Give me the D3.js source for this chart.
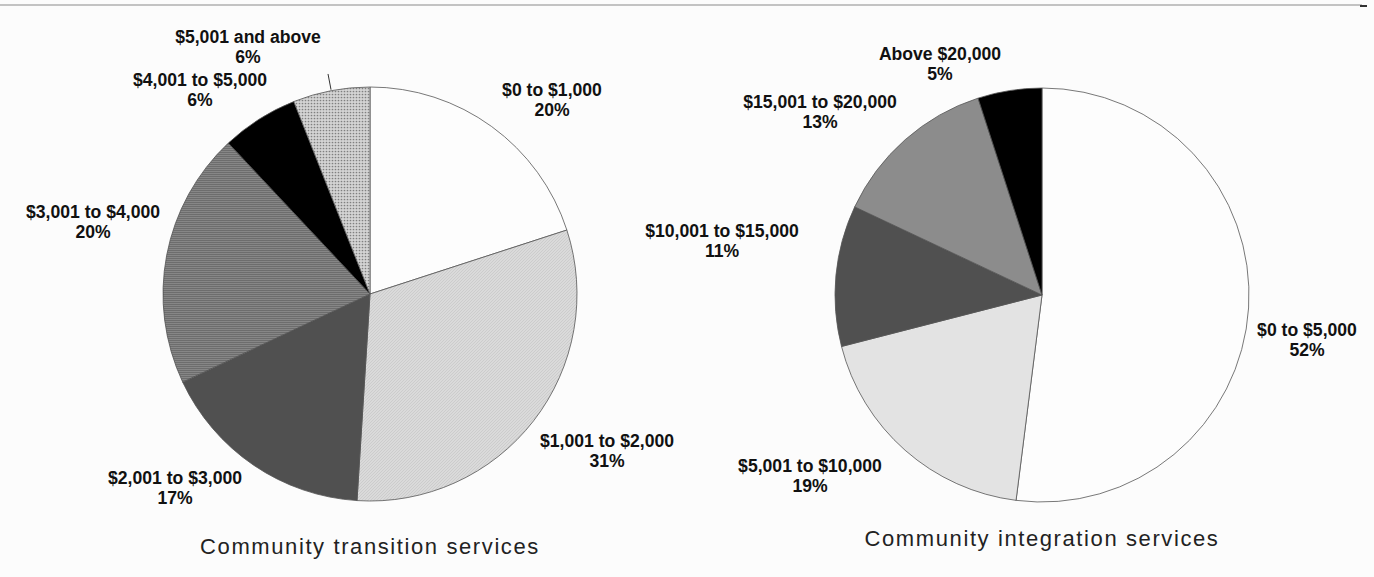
<!DOCTYPE html>
<html>
<head>
<meta charset="utf-8">
<script src="https://cdn.jsdelivr.net/npm/d3@7"></script>
<style>
  html, body { margin: 0; padding: 0; background: #fcfcfc; }
  svg { display: block; }
  .lbl { font-family: "Liberation Sans", Arial, sans-serif; font-weight: bold; font-size: 17.6px; fill: #111; }
  .ttl { font-family: "Liberation Sans", Arial, sans-serif; font-size: 22px; fill: #222; letter-spacing: 1.6px; }
</style>
</head>
<body>
<script>
// data
var transLabels = ["$0 to $1,000", "$1,001 to $2,000", "$2,001 to $3,000", "$3,001 to $4,000", "$4,001 to $5,000", "$5,001 and above"];
var transValues = [20, 31, 17, 20, 6, 6];

var integLabels = ["$0 to $5,000", "$5,001 to $10,000", "$10,001 to $15,000", "$15,001 to $20,000", "Above $20,000"];
var integValues = [52, 19, 11, 13, 5];

var titles = ["Community transition services", "Community integration services"];

// fills / label layout (offsets from pie centre)
var transFills = ["#fdfdfd", "url(#hatch)", "#505050", "url(#stripes)", "#000", "url(#dots)"];
var integFills = ["#fdfdfd", "#e3e3e3", "#505050", "#8c8c8c", "#000"];
var transLabelPos = [[182, -204], [237, 147], [-195, 184], [-277, -82], [-170, -214], [-122, -257]];
var integLabelPos = [[265, 35], [-232, 171], [-320, -64], [-222, -193], [-102, -241]];

var W = 1374, H = 577;
var svg = d3.select("body").append("svg").attr("width", W).attr("height", H);

var defs = svg.append("defs");
var hatch = defs.append("pattern").attr("id", "hatch").attr("patternUnits", "userSpaceOnUse")
  .attr("width", 3).attr("height", 3);
hatch.append("rect").attr("width", 3).attr("height", 3).attr("fill", "#dadada");
hatch.append("path").attr("d", "M0,3 L3,0 M-1,1 L1,-1 M2,4 L4,2").attr("stroke", "#c6c6c6").attr("stroke-width", 0.7);

var dots = defs.append("pattern").attr("id", "dots").attr("patternUnits", "userSpaceOnUse")
  .attr("width", 3).attr("height", 3);
dots.append("rect").attr("width", 3).attr("height", 3).attr("fill", "#d4d4d4");
dots.append("circle").attr("cx", 1.5).attr("cy", 1.5).attr("r", 0.85).attr("fill", "#808080");

var stripes = defs.append("pattern").attr("id", "stripes").attr("patternUnits", "userSpaceOnUse")
  .attr("width", 4).attr("height", 2);
stripes.append("rect").attr("width", 4).attr("height", 2).attr("fill", "#929292");
stripes.append("rect").attr("width", 4).attr("height", 1).attr("fill", "#767676");

var band = defs.append("linearGradient").attr("id", "band").attr("gradientUnits", "userSpaceOnUse")
  .attr("x1", 0).attr("x2", 0).attr("y1", 130).attr("y2", 380);
[[0, "#000", 0.08], [0.18, "#000", 0.08], [0.2, "#fff", 0.35], [0.4, "#fff", 0.35], [0.42, "#000", 0.06], [0.93, "#000", 0.06], [0.95, "#fff", 0.25], [1, "#fff", 0.25]]
  .forEach(function(s) {
    band.append("stop").attr("offset", s[0]).attr("stop-color", s[1]).attr("stop-opacity", s[2]);
  });

// top rule
svg.append("line").attr("x1", 0).attr("x2", 1362).attr("y1", 5).attr("y2", 5)
  .attr("stroke", "#b0b0b0").attr("stroke-width", 1.5);
svg.append("line").attr("x1", 1360).attr("x2", 1367).attr("y1", 6).attr("y2", 6)
  .attr("stroke", "#333").attr("stroke-width", 2);

var pie = d3.pie().sort(null).value(function(d) { return d; });
var r = 207;
var arc = d3.arc().innerRadius(0).outerRadius(r);

function drawPie(cx, cy, labels, values, fills, pos, title, titleY, leader) {
  var g = svg.append("g").attr("transform", "translate(" + cx + "," + cy + ")");
  var arcs = pie(values);
  g.selectAll("path.slice").data(arcs).enter().append("path")
    .attr("class", "slice")
    .attr("d", arc)
    .attr("fill", function(d, i) { return fills[i]; })
    .attr("stroke", "#555")
    .attr("stroke-width", 0.8);

  if (fills.indexOf("url(#stripes)") >= 0) {
    var i = fills.indexOf("url(#stripes)");
    svg.append("path").attr("d", arc(arcs[i]))
      .attr("transform", "translate(" + cx + "," + cy + ")")
      .attr("fill", "url(#band)");
  }

  arcs.forEach(function(d, i) {
    var t = g.append("text").attr("class", "lbl").attr("text-anchor", "middle")
      .attr("x", pos[i][0]).attr("y", pos[i][1] + 6);
    t.append("tspan").attr("x", pos[i][0]).text(labels[i]);
    t.append("tspan").attr("x", pos[i][0]).attr("dy", 20).text(d3.format(".0f")(d.value) + "%");
  });

  if (leader !== undefined) {
    var a = (arcs[leader].startAngle + arcs[leader].endAngle) / 2;
    g.append("line")
      .attr("x1", Math.sin(a) * (r + 1)).attr("y1", -Math.cos(a) * (r + 1))
      .attr("x2", Math.sin(a) * (r + 17)).attr("y2", -Math.cos(a) * (r + 17))
      .attr("stroke", "#333").attr("stroke-width", 1);
  }

  svg.append("text").attr("class", "ttl").attr("text-anchor", "middle")
    .attr("x", cx).attr("y", titleY).text(title);
}

drawPie(370, 294, transLabels, transValues, transFills, transLabelPos, titles[0], 554, 5);
drawPie(1042, 295, integLabels, integValues, integFills, integLabelPos, titles[1], 546);
</script>
</body>
</html>
